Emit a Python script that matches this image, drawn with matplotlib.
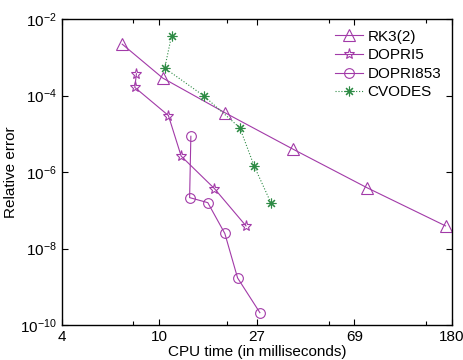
import numpy as np
import matplotlib
matplotlib.use('Agg')
import matplotlib.pyplot as plt
from matplotlib.ticker import FixedLocator, NullFormatter

plt.rcParams['font.family'] = ['Liberation Sans', 'DejaVu Sans']
plt.rcParams['mathtext.fontset'] = 'custom'
plt.rcParams['mathtext.rm'] = 'Liberation Sans'
plt.rcParams['mathtext.it'] = 'Liberation Sans'

# data
rk3_t = [7.2, 10.7, 19.7, 38.3, 78.4, 169]
rk3_err = [2.2e-3, 2.85e-4, 3.5e-5, 3.9e-6, 3.9e-7, 3.9e-8]

dp5_t = [8.27, 8.14, 11.3, 12.8, 17.7, 24.1]
dp5_err = [3.7e-4, 1.63e-4, 3.0e-5, 2.6e-6, 3.7e-7, 3.9e-8]

dp853_t = [14.07, 13.9, 16.6, 19.6, 22.2, 27.6]
dp853_err = [8.6e-6, 2.14e-7, 1.58e-7, 2.47e-8, 1.7e-9, 2.1e-10]

cv_t = [11.65, 10.9, 16.0, 22.7, 26.1, 30.8]
cv_err = [3.6e-3, 5.2e-4, 9.7e-5, 1.43e-5, 1.43e-6, 1.52e-7]

xticks = [4, 10.36, 26.83, 69.48, 180]
xticklabels = ['4', '10', '27', '69', '180']
xminor = [8, 20, 54, 139]
yticks = [1e-10, 1e-8, 1e-6, 1e-4, 1e-2]

purple = '#a23aa8'
green = '#2e8b45'

fig = plt.figure(figsize=(4.64, 3.6), dpi=100)
ax = fig.add_axes([62/464, 1 - 325/360, 390/464, 306/360])

ax.plot(rk3_t, rk3_err, '-', color=purple, lw=0.8, marker='^', ms=8,
        mfc='none', mew=0.8, label='RK3(2)')
ax.plot(dp5_t, dp5_err, '-', color=purple, lw=0.8, marker='*', ms=8,
        mfc='none', mew=0.8, label='DOPRI5')
ax.plot(dp853_t, dp853_err, '-', color=purple, lw=0.8, marker='o', ms=7,
        mfc='none', mew=0.8, label='DOPRI853')
ax.plot(cv_t, cv_err, ':', color=green, lw=0.8, marker=(8, 2, 0), ms=7,
        mew=0.8, label='CVODES')

ax.set_xscale('log')
ax.set_yscale('log')
ax.set_xlim(4, 180)
ax.set_ylim(1e-10, 1e-2)

ax.xaxis.set_major_locator(FixedLocator(xticks))
ax.set_xticklabels(xticklabels)
ax.xaxis.set_minor_locator(FixedLocator(xminor))
ax.xaxis.set_minor_formatter(NullFormatter())
ax.yaxis.set_major_locator(FixedLocator(yticks))
ax.set_yticklabels([r'$10^{-%d}$' % k for k in [10, 8, 6, 4, 2]])
ax.yaxis.set_minor_locator(FixedLocator([]))

ax.tick_params(which='both', direction='in', top=True, right=True, labelsize=11)
ax.tick_params(which='major', length=4, width=0.8)
ax.tick_params(which='minor', length=3, width=0.8)
for s in ax.spines.values():
    s.set_linewidth(1.0)

ax.set_xlabel('CPU time (in milliseconds)', fontsize=11, labelpad=1)
ax.set_ylabel('Relative error', fontsize=11, labelpad=2)

ax.legend(loc='upper right', frameon=False, fontsize=11, handlelength=1.8,
          handletextpad=0.3, labelspacing=0.3, borderaxespad=0.3)

fig.savefig('out.png', dpi=100)
